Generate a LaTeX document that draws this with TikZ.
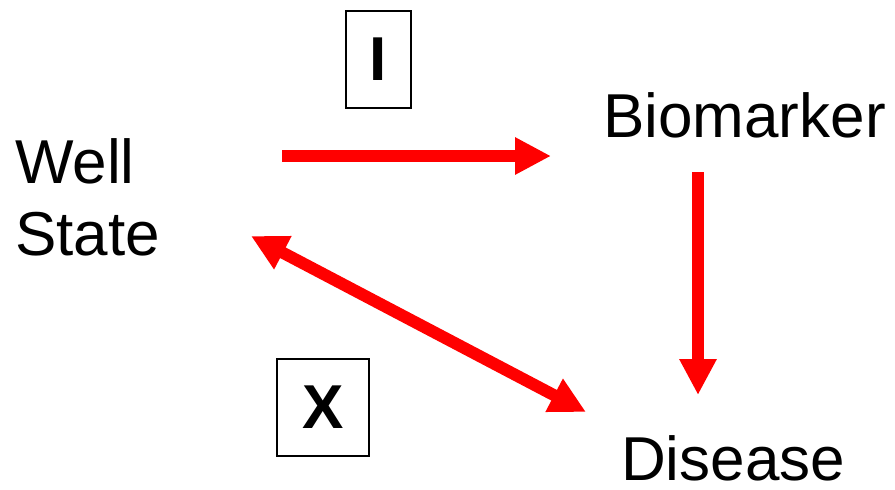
\documentclass[tikz,border=0pt]{standalone}
\usepackage{fontspec}
\setmainfont{Liberation Sans}
\usetikzlibrary{arrows.meta}
\tikzset{
  label text/.style={font=\fontsize{62}{72}\selectfont, inner sep=0pt},
  letter box/.style={draw=black, line width=1.3pt, font=\fontsize{62}{72}\selectfont\bfseries,
                     inner sep=0pt, minimum height=97pt},
  link/.style={draw=red, line width=12pt,
               -{Triangle[length=36pt,width=35pt]}},
  both link/.style={draw=red, line width=12pt,
               {Triangle[length=36pt,width=35pt]}-{Triangle[length=36pt,width=35pt]}},
}
\begin{document}
\begin{tikzpicture}[x=1pt, y=-1pt]
  \useasboundingbox (0,0) rectangle (895,490);

  % states (base of a two-line node is the baseline of its last line)
  \node[label text, align=left, anchor=base west] (well) at (15,255) {Well\\State};
  \node[label text, anchor=base west] (bio) at (603,137) {Biomarker};
  \node[label text, anchor=base west] (dis) at (621,480) {Disease};

  % labelled boxes
  \node[letter box, minimum width=65pt] (boxI) at (378.5,59.5) {I};
  \node[letter box, minimum width=92pt] (boxX) at (323,407.5) {X};

  % arrow end points
  \coordinate (wellR) at (282,156);
  \coordinate (bioL) at (551,156);
  \coordinate (bioB) at (698,172);
  \coordinate (disT) at (698,395);
  \coordinate (wellB) at (251,236);
  \coordinate (disL) at (586,412);

  % arrows
  \draw[link] (wellR) -- (bioL);
  \draw[link] (bioB) -- (disT);
  \draw[both link] (wellB) -- (disL);
\end{tikzpicture}
\end{document}
